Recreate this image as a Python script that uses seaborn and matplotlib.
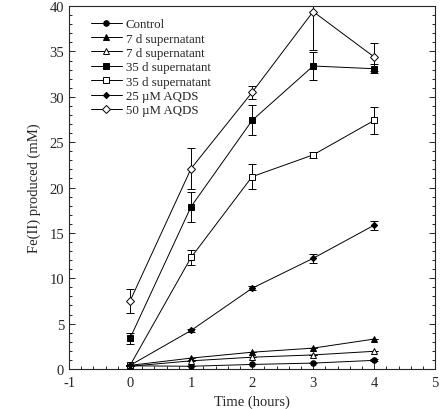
import matplotlib
matplotlib.use("Agg")
import matplotlib.pyplot as plt
import seaborn as sns
import pandas as pd
from matplotlib.ticker import MultipleLocator

time = [0, 1, 2, 3, 4]
labels = ["Control", "7 d supernatant", "7 d supernatant", "35 d supernatant",
          "35 d supernatant", "25 \u00b5M AQDS", "50 \u00b5M AQDS"]
control = [0.35, 0.3, 0.5, 0.65, 0.95]
sup7_filled = [0.4, 1.2, 1.85, 2.3, 3.3]
sup7_open = [0.3, 0.9, 1.3, 1.55, 1.95]
sup35_filled = [3.4, 17.9, 27.4, 33.4, 33.1]
sup35_open = [0.4, 12.3, 21.2, 23.6, 27.4]
aqds25 = [0.4, 4.25, 8.9, 12.2, 15.85]
aqds50 = [7.5, 22.1, 30.5, 39.4, 34.4]

err_control = [0, 0, 0, 0, 0.1]
err_sup7_filled = [0, 0, 0, 0, 0]
err_sup7_open = [0, 0, 0, 0, 0]
err_sup35_filled = [0.6, 1.65, 1.65, 1.5, 0.5]
err_sup35_open = [0, 0.85, 1.4, 0.3, 1.5]
err_aqds25 = [0, 0.2, 0.2, 0.5, 0.5]
err_aqds50 = [1.3, 2.3, 0.7, 4.2, 1.5]

series = [control, sup7_filled, sup7_open, sup35_filled, sup35_open, aqds25, aqds50]
errors = [err_control, err_sup7_filled, err_sup7_open, err_sup35_filled,
          err_sup35_open, err_aqds25, err_aqds50]
markers = ["o", "^", "^", "s", "s", "D", "D"]
filled = [True, True, False, True, False, True, False]
msizes = [4.0, 4.2, 4.2, 4.6, 4.6, 3.2, 3.6]

sns.set_style("ticks")
plt.rcParams["font.family"] = ["Liberation Serif", "DejaVu Serif"]
plt.rcParams["axes.unicode_minus"] = False

fig = plt.figure(figsize=(4.4, 4.1), dpi=100)
ax = fig.add_axes([0.157, 0.0976, 0.832, 0.885])

for i, (vals, errs) in enumerate(zip(series, errors)):
    df = pd.DataFrame({"Time": time, "Fe": vals})
    ax.errorbar(time, vals, yerr=errs, fmt="none", ecolor="black",
                elinewidth=0.7, capsize=2.6, capthick=0.7, zorder=2)
    sns.lineplot(data=df, x="Time", y="Fe", ax=ax, color="black", linewidth=0.7,
                 marker=markers[i], markersize=msizes[i],
                 markerfacecolor="black" if filled[i] else "white",
                 markeredgecolor="black", markeredgewidth=0.7,
                 label=labels[i], zorder=3)

ax.set_xlim(-1, 5)
ax.set_ylim(0, 40)
ax.xaxis.set_major_locator(MultipleLocator(1))
ax.xaxis.set_minor_locator(MultipleLocator(0.2))
ax.yaxis.set_major_locator(MultipleLocator(5))
ax.yaxis.set_minor_locator(MultipleLocator(1))
ax.tick_params(which="both", direction="in", right=True, top=False,
               labelsize=10.5, width=0.7)
ax.tick_params(which="major", length=4)
ax.tick_params(which="minor", length=2)
ax.tick_params(axis="x", pad=5)
for s in ax.spines.values():
    s.set_linewidth(0.8)
    s.set_visible(True)

ax.set_xlabel("Time (hours)", fontsize=10.5, labelpad=4)
ax.set_ylabel("Fe(II) produced (mM)", fontsize=10.5, labelpad=6)

ax.legend(loc="upper left", frameon=False, fontsize=9.3, handlelength=2.4,
          labelspacing=0.18, borderaxespad=0.0, bbox_to_anchor=(0.045, 0.981),
          handletextpad=0.3)

fig.savefig("out.png", dpi=100)
